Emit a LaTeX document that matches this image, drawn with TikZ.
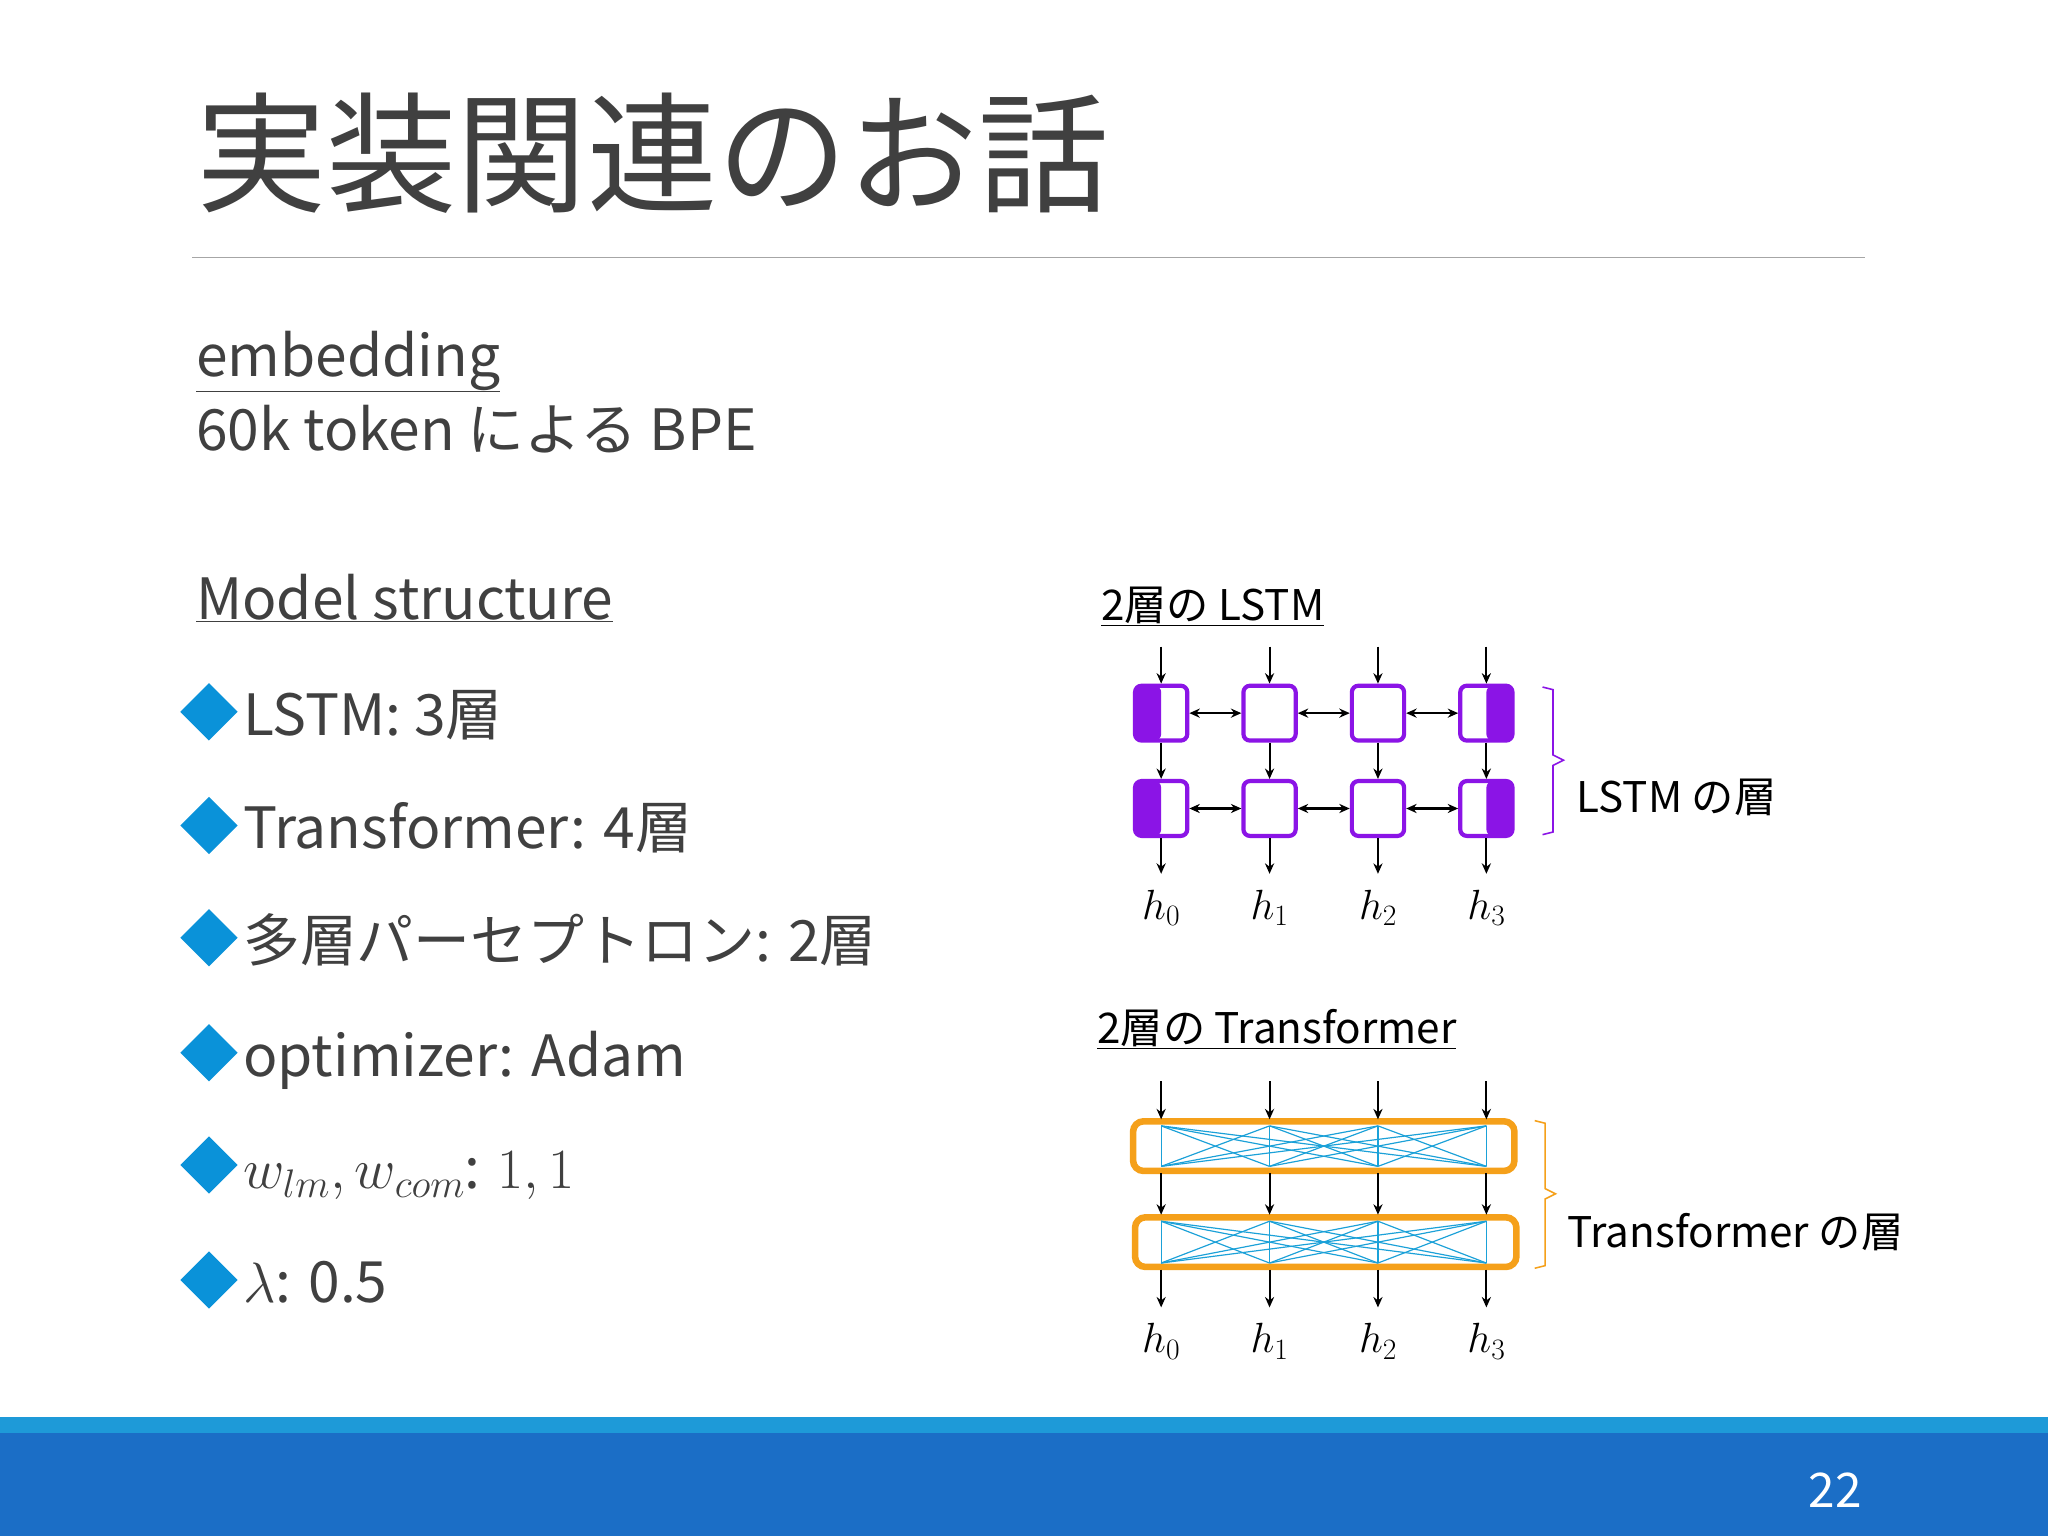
\documentclass[tikz,border=0pt]{standalone}
\usepackage{fix-cm}
\usepackage{fontspec}
\setmainfont{Noto Sans CJK JP}
\usetikzlibrary{shapes.geometric,arrows.meta}
\definecolor{tgrey}{HTML}{404040}
\definecolor{lpurple}{HTML}{8B14E6}
\definecolor{torange}{HTML}{F5A01A}
\definecolor{tblue}{HTML}{1BA1D8}
\definecolor{bullet}{HTML}{0A92D9}
\definecolor{bardark}{HTML}{1B6EC6}
\definecolor{barlight}{HTML}{1E9AD8}
\tikzset{
  fsz/.style={font=\fontsize{#1}{#1}\selectfont},
  txt/.style={anchor=base west,inner sep=0,text=tgrey},
  dia/.style={diamond,fill=bullet,minimum width=22mm,minimum height=22mm,inner sep=0},
  lbox/.style={draw=lpurple,line width=1.6mm,rounded corners=2.5mm,minimum width=20mm,minimum height=21mm,inner sep=0},
  lfillL/.style={lbox,path picture={\fill[lpurple] (path picture bounding box.south west) rectangle (path picture bounding box.north);}},
  lfillR/.style={lbox,path picture={\fill[lpurple] (path picture bounding box.south) rectangle (path picture bounding box.north east);}},
  arr/.style={-{Stealth[length=4mm,width=3.5mm]},line width=0.8mm,black},
  darr/.style={{Stealth[length=4mm,width=3.5mm]}-{Stealth[length=4mm,width=3.5mm]},line width=0.8mm,black},
  tbox/.style={draw=torange,line width=2.5mm,rounded corners=4mm,minimum width=146mm,minimum height=19mm,inner sep=0},
  att/.style={draw=tblue,line width=0.45mm},
  hl/.style={inner sep=0,fsz=46},
  lab/.style={anchor=base west,inner sep=0,fsz=46,text=black},
}
\begin{document}
\begin{tikzpicture}[x=0.5mm,y=-0.5mm]
\fill[white] (0,0) rectangle (1568,1176);
\useasboundingbox (0,0) rectangle (1568,1176);
% title
\node[txt,fsz=142] (title) at (150,155) {実装関連のお話};
\draw[gray!70,line width=0.6mm] (147,197) -- (1428,197);
% left text
\node[txt,fsz=62] (emb) at (150,288) {\underline{embedding}};
\node[txt,fsz=62] (bpe) at (150,345) {60k token による BPE};
\node[txt,fsz=62] (ms) at (150,474) {\underline{Model structure}};
\foreach \y/\t [count=\i] in {545/{LSTM: 3層},632/{Transformer: 4層},718/{多層パーセプトロン: 2層},806/{optimizer: Adam}}{
  \node[dia] (d\i) at (160,\y) {};
  \node[txt,fsz=62] (b\i) at (186,\y+18) {\t};
}
\node[dia] (d5) at (160,892) {};
\node[txt,fsz=62] (b5) at (186,910) {$w_{lm},w_{com}$: $1,1$};
\node[dia] (d6) at (160,980) {};
\node[txt,fsz=62] (b6) at (186,997) {$\lambda$: 0.5};
% LSTM
\node[lab] (lt) at (843,475) {\underline{2層の LSTM}};
\foreach \x [count=\i] in {889,972,1055,1138}{
  \ifnum\i=1 \def\st{lfillL}\else\ifnum\i=4 \def\st{lfillR}\else\def\st{lbox}\fi\fi
  \node[\st] (a\i) at (\x,546) {};
  \node[\st] (c\i) at (\x,619) {};
  \coordinate (ai\i) at (\x,495);
  \coordinate (ao\i) at (\x,669);
  \draw[arr] (ai\i) -- (a\i.north);
  \draw[arr] (a\i.south) -- (c\i.north);
  \draw[arr] (c\i.south) -- (ao\i);
  \node[hl] (lh\i) at (\x,695) {$h_{\the\numexpr\i-1\relax}$};
}
\foreach \i/\j in {1/2,2/3,3/4}{
  \draw[darr] (a\i.east) -- (a\j.west);
  \draw[darr] (c\i.east) -- (c\j.west);
}
\draw[lpurple,line width=0.6mm] (1181,526) -- (1189,528) -- (1189,578) -- (1197,582) -- (1189,586) -- (1189,637) -- (1181,639);
\node[lab] (ll) at (1207,622) {LSTM の層};
% Transformer
\node[lab] (tt) at (840,799) {\underline{2層の Transformer}};
\node[tbox] (t1) at (1013.5,877.5) {};
\node[tbox] (t2) at (1015,951) {};
\foreach \x [count=\i] in {889,972,1055,1138}{
  \coordinate (p\i) at (\x,862); \coordinate (q\i) at (\x,893);
  \coordinate (r\i) at (\x,935); \coordinate (s\i) at (\x,967);
  \coordinate (ti\i) at (\x,828); \coordinate (to\i) at (\x,1001);
}
\foreach \i in {1,...,4}{\foreach \j in {1,...,4}{
  \draw[att] (p\i) -- (q\j); \draw[att] (r\i) -- (s\j);
}}
\foreach \x [count=\i] in {889,972,1055,1138}{
  \draw[arr] (ti\i) -- (\x,857);
  \draw[arr] (\x,898) -- (\x,930);
  \draw[arr] (\x,972) -- (to\i);
  \node[hl] (th\i) at (\x,1027) {$h_{\the\numexpr\i-1\relax}$};
}
\draw[torange,line width=0.6mm] (1175,858) -- (1183,860) -- (1183,910) -- (1191,914) -- (1183,918) -- (1183,969) -- (1175,971);
\node[lab] (tl) at (1200,955) {Transformer の層};
% footer
\fill[barlight] (0,1085) rectangle (1568,1097);
\fill[bardark] (0,1097) rectangle (1568,1176);
\node[inner sep=0,anchor=base,text=white,fsz=52] (pg) at (1405,1154) {22};
\end{tikzpicture}
\end{document}
